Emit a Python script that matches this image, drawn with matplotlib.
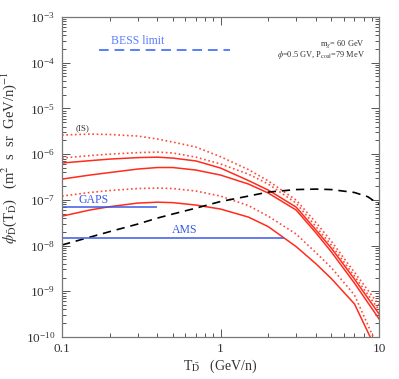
"""Antideuteron flux at the Earth for m_chi = 60 GeV, with BESS / GAPS / AMS sensitivities."""

import matplotlib

matplotlib.use("Agg")
import matplotlib.pyplot as plt
from matplotlib.ticker import LogLocator, NullFormatter

plt.rcParams["font.family"] = ["Liberation Serif", "DejaVu Serif"]
plt.rcParams["mathtext.fontset"] = "stix"

# --- fluxes, (m^2 s sr GeV/n)^-1 vs T (GeV/n) ---
T = [0.1, 0.15, 0.2, 0.3, 0.4, 0.5, 0.7, 1, 1.5, 2, 3, 4, 5, 7, 10]

flux_is = [2.62e-6, 2.75e-6, 2.69e-6, 2.49e-6, 2.14e-6, 1.84e-6, 1.43e-6, 8.8e-7,
           4.6e-7, 2.6e-7, 9.9e-8, 3.2e-8, 1.25e-8, 2.6e-9, 5.0e-10]
flux_max_dot = [8.2e-7, 9.3e-7, 1.0e-6, 1.08e-6, 1.11e-6, 1.06e-6, 8.6e-7, 6.1e-7,
                3.67e-7, 2.22e-7, 8.5e-8, 2.6e-8, 1.03e-8, 2.15e-9, 3.9e-10]
flux_max = [6.4e-7, 7.2e-7, 7.8e-7, 8.4e-7, 8.6e-7, 8.2e-7, 7.1e-7, 4.97e-7,
            2.65e-7, 1.64e-7, 6.95e-8, 2.2e-8, 8.8e-9, 1.85e-9, 3.2e-10]
flux_med = [2.85e-7, 3.49e-7, 3.96e-7, 4.72e-7, 5.1e-7, 5.1e-7, 4.49e-7, 3.49e-7,
            2.22e-7, 1.41e-7, 6.0e-8, 1.9e-8, 7.3e-9, 1.51e-9, 2.5e-10]

T_low_dot = [0.1, 0.15, 0.2, 0.3, 0.4, 0.5, 0.7, 1, 1.5, 2, 3, 4, 5, 7, 9.2]
flux_low_dot = [1.21e-7, 1.45e-7, 1.60e-7, 1.77e-7, 1.81e-7, 1.77e-7, 1.56e-7, 1.21e-7,
                7.5e-8, 4.4e-8, 1.79e-8, 7.0e-9, 3.3e-9, 8.3e-10, 1.0e-10]
T_low = [0.1, 0.15, 0.2, 0.3, 0.4, 0.5, 0.7, 1, 1.5, 2, 3, 4, 5, 7, 8.8]
flux_low = [4.4e-8, 6.0e-8, 7.1e-8, 8.5e-8, 8.9e-8, 8.7e-8, 7.7e-8, 6.3e-8,
            4.2e-8, 2.6e-8, 9.5e-9, 4.0e-9, 1.9e-9, 5.3e-10, 1.0e-10]

T_bkg = [0.1, 0.15, 0.2, 0.3, 0.4, 0.5, 0.7, 1, 1.5, 2, 3, 4, 5, 7, 8.5, 10]
flux_bkg = [1.03e-8, 1.53e-8, 2.02e-8, 2.95e-8, 4.0e-8, 4.9e-8, 6.6e-8, 9.2e-8,
            1.21e-7, 1.48e-7, 1.68e-7, 1.72e-7, 1.68e-7, 1.45e-7, 1.17e-7, 8.0e-8]

# experiment sensitivities: (T_min, T_max, flux)
bess = (0.17, 1.15, 1.9e-4)
gaps = (0.1, 0.4, 7.0e-8)
ams = (0.1, 2.5, 1.5e-8)

RED = "#ff2b1c"
RED_DOT = "#ff4a3a"
BLUE = "#3a5ae6"
BLUE_LIGHT = "#5a7dff"
GREY = "#555555"

fig = plt.figure(figsize=(3.99, 3.79), dpi=100)
ax = fig.add_axes([0.1554, 0.1108, 0.7945, 0.8443])

dot = (0, (1, 1.6))
ax.plot(T, flux_is, color=RED_DOT, lw=1.2, ls=dot)
ax.plot(T, flux_max_dot, color=RED_DOT, lw=1.2, ls=dot)
ax.plot(T, flux_max, color=RED, lw=1.1)
ax.plot(T, flux_med, color=RED, lw=1.1)
ax.plot(T_low_dot, flux_low_dot, color=RED_DOT, lw=1.2, ls=dot)
ax.plot(T_low, flux_low, color=RED, lw=1.1)
ax.plot(T_bkg, flux_bkg, color="black", lw=1.2, ls=(0, (5, 3.5)))

ax.hlines(bess[2], bess[0], bess[1], color=BLUE_LIGHT, lw=1.4, ls=(0, (5, 3)))
ax.hlines(gaps[2], gaps[0], gaps[1], color=BLUE, lw=1.1)
ax.hlines(ams[2], ams[0], ams[1], color=BLUE, lw=1.1)

ax.text(0.30, 3.0e-4, "BESS limit", color=BLUE_LIGHT, fontsize=8.5, ha="center", va="center")
ax.text(0.159, 1.0e-7, "GAPS", color=BLUE, fontsize=8.5, ha="center", va="center")
ax.text(0.59, 2.2e-8, "AMS", color=BLUE, fontsize=8.5, ha="center", va="center")
ax.text(0.134, 3.7e-6, "(IS)", color="#333333", fontsize=6.5, ha="center", va="center")

ax.text(0.955, 0.914, r"m$_\chi$= 60 GeV", transform=ax.transAxes, fontsize=6,
        ha="right", va="center", color="#333333")
ax.text(0.955, 0.880, r"$\phi$=0.5 GV, P$_{\rm coal}$=79 MeV", transform=ax.transAxes,
        fontsize=6, ha="right", va="center", color="#333333")

ax.set_xscale("log")
ax.set_yscale("log")
ax.set_xlim(0.1, 10)
ax.set_ylim(1e-10, 1e-3)

ax.xaxis.set_major_formatter(plt.FuncFormatter(lambda v, _: f"{v:g}"))
ax.yaxis.set_major_locator(LogLocator(base=10, numticks=10))
ax.yaxis.set_minor_locator(LogLocator(base=10, subs=range(2, 10), numticks=20))
ax.yaxis.set_minor_formatter(NullFormatter())
ax.xaxis.set_minor_formatter(NullFormatter())

ax.tick_params(which="both", direction="in", top=True, right=True, colors=GREY,
               labelcolor="#333333", labelsize=9.5, width=0.7)
ax.tick_params(which="major", length=6, pad=5)
ax.tick_params(axis="x", which="major", pad=4)
ax.tick_params(which="minor", length=3)
for s in ax.spines.values():
    s.set_color("#777777")
    s.set_linewidth(0.9)

ax.set_xlabel(r"T$_{\bar{\rm D}}$   (GeV/n)", fontsize=10, color="#333333", labelpad=2)
ax.set_ylabel(r"$\phi_{\bar{\rm D}}$(T$_{\bar{\rm D}}$)   (m$^2$  s  sr  GeV/n)$^{-1}$",
              fontsize=10.5, color="#333333")
ax.yaxis.set_label_coords(-0.135, 0.56)

fig.savefig("out.png", dpi=100)
